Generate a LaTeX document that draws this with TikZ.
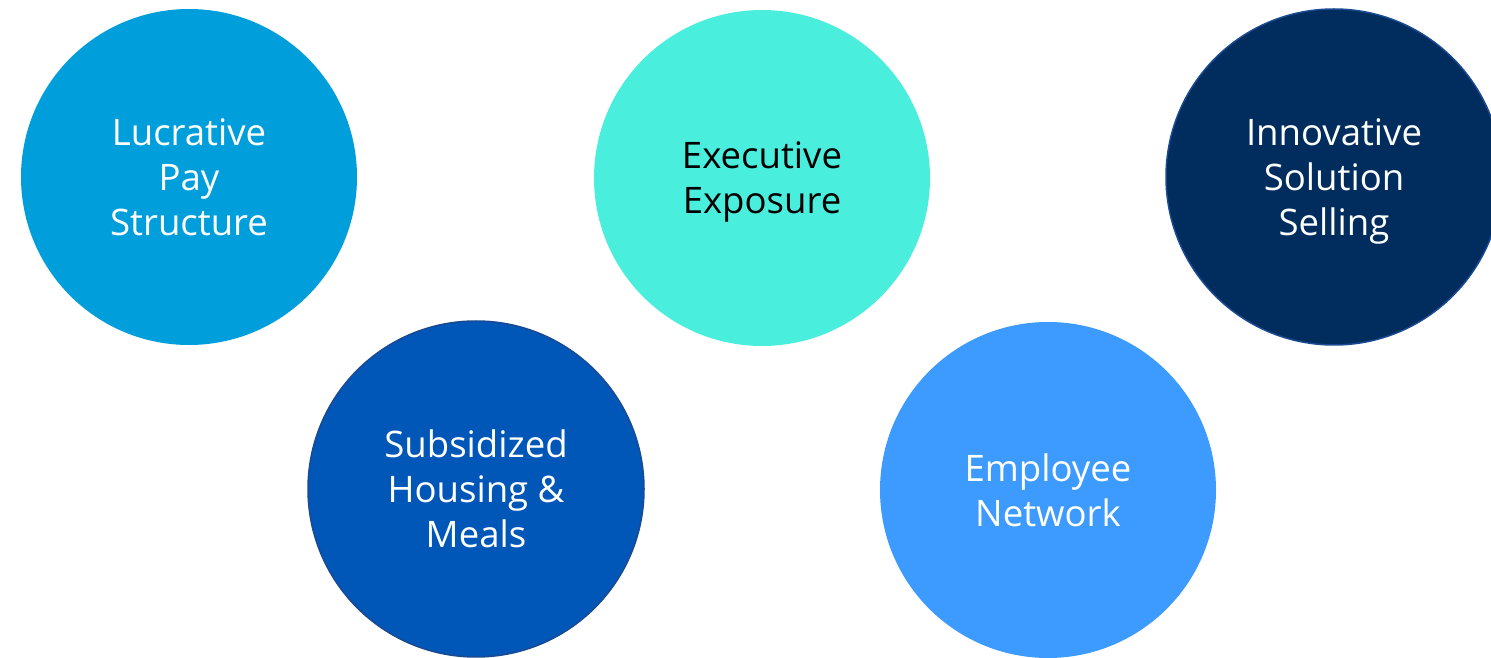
\documentclass[tikz,border=0pt]{standalone}
\usepackage{fontspec}
\setmainfont{Open Sans}
\usepackage{tikz}

\definecolor{paycol}{HTML}{009FDB}
\definecolor{execcol}{HTML}{4AEEDC}
\definecolor{sellcol}{HTML}{002D5D}
\definecolor{housecol}{HTML}{0057B8}
\definecolor{netcol}{HTML}{3D9BFF}
\definecolor{rimcol}{HTML}{1A4A92}

\begin{document}
\begin{tikzpicture}[x=0.1mm, y=-0.1mm,
    bubble/.style={circle, minimum size=33.6mm, inner sep=0pt, align=center,
      text depth=0pt, text=white, font=\fontsize{10.4}{12.8}\selectfont}]
  \useasboundingbox (0,0) rectangle (1491,658);
  \clip (0,0) rectangle (1491,658);

  % Top row
  \node[bubble, fill=paycol] (pay) at (189,177) {Lucrative\\Pay\\Structure};
  \node[bubble, fill=execcol, text=black] (exec) at (762,178) {Executive\\Exposure};
  \node[bubble, fill=sellcol, draw=rimcol, line width=0.15mm] (sell) at (1334,177) {Innovative\\Solution\\Selling};

  % Bottom row
  \node[bubble, fill=housecol, draw=rimcol, line width=0.15mm] (house) at (476,489) {Subsidized\\Housing \&\\Meals};
  \node[bubble, fill=netcol] (net) at (1048,490) {Employee\\Network};
\end{tikzpicture}
\end{document}
